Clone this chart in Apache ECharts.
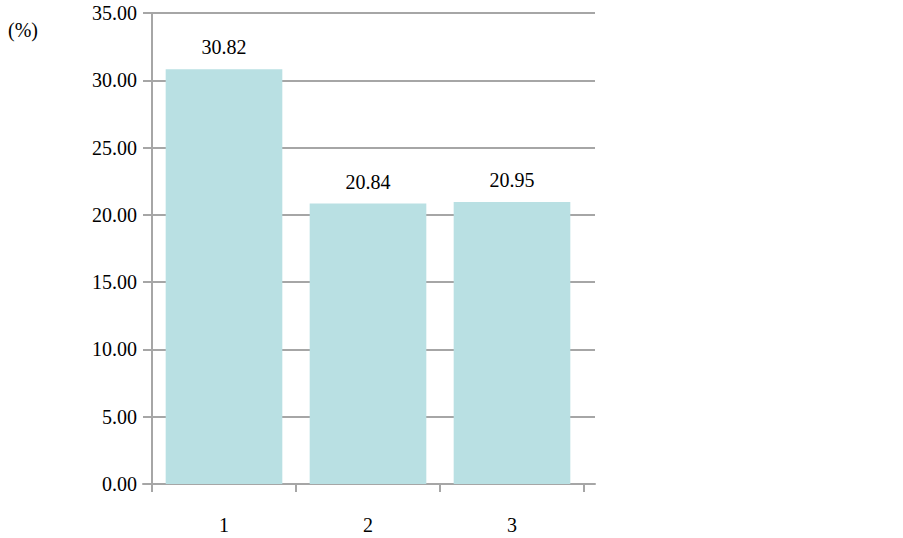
<!DOCTYPE html>
<html>
<head>
<meta charset="utf-8">
<script src="https://cdn.jsdelivr.net/npm/echarts@6/dist/echarts.min.js"></script>
<style>html,body{margin:0;padding:0;background:#fff}#chart{width:903px;height:538px}</style>
</head>
<body>
<div id="chart"></div>
<script>
const categories = ['1', '2', '3'];
const values = [30.82, 20.84, 20.95];
const yMin = 0, yMax = 35, yStep = 5;

const font = 'Liberation Serif';
const gridColor = '#a6a6a6';

let chart = echarts.init(document.getElementById('chart'), null, {renderer: 'svg'});
chart.setOption({
  animation: false,
  graphic: [{
    type: 'text', left: 8, top: 20,
    style: {text: '(%)', font: '20px "' + font + '"', fill: '#000'}
  }],
  grid: [
    {left: 152, right: 319, top: 13, bottom: 54},
    {left: 143, right: 308, top: 13, bottom: 54}
  ],
  xAxis: [{
    type: 'category', gridIndex: 0, data: categories,
    axisLine: {show: false},
    axisTick: {show: true, length: 8, inside: false, lineStyle: {color: gridColor, width: 2}},
    axisLabel: {margin: 31, fontFamily: font, fontSize: 20, color: '#000'}
  }, {
    type: 'value', gridIndex: 1, min: 0, max: 1, show: true,
    axisLine: {show: true, lineStyle: {color: gridColor, width: 2}},
    axisTick: {show: false}, axisLabel: {show: false}, splitLine: {show: false}
  }],
  yAxis: [{
    type: 'value', gridIndex: 0, min: yMin, max: yMax, interval: yStep,
    axisLine: {show: true, lineStyle: {color: gridColor, width: 2}},
    axisTick: {show: false},
    splitLine: {show: false},
    axisLabel: {margin: 15, fontFamily: font, fontSize: 20, color: '#000',
      formatter: v => v.toFixed(2)}
  }, {
    type: 'value', gridIndex: 1, min: yMin, max: yMax, interval: yStep,
    axisLine: {show: false}, axisTick: {show: false}, axisLabel: {show: false},
    splitLine: {show: true, lineStyle: {color: gridColor, width: 2}}
  }],
  series: [{
    type: 'bar', xAxisIndex: 0, yAxisIndex: 0, data: values,
    barWidth: '81%', z: 3,
    itemStyle: {color: '#b9e0e3'},
    label: {show: true, position: 'top', distance: 12, fontFamily: font, fontSize: 20, color: '#000',
      formatter: p => p.value.toFixed(2)}
  }]
});
</script>
</body>
</html>
